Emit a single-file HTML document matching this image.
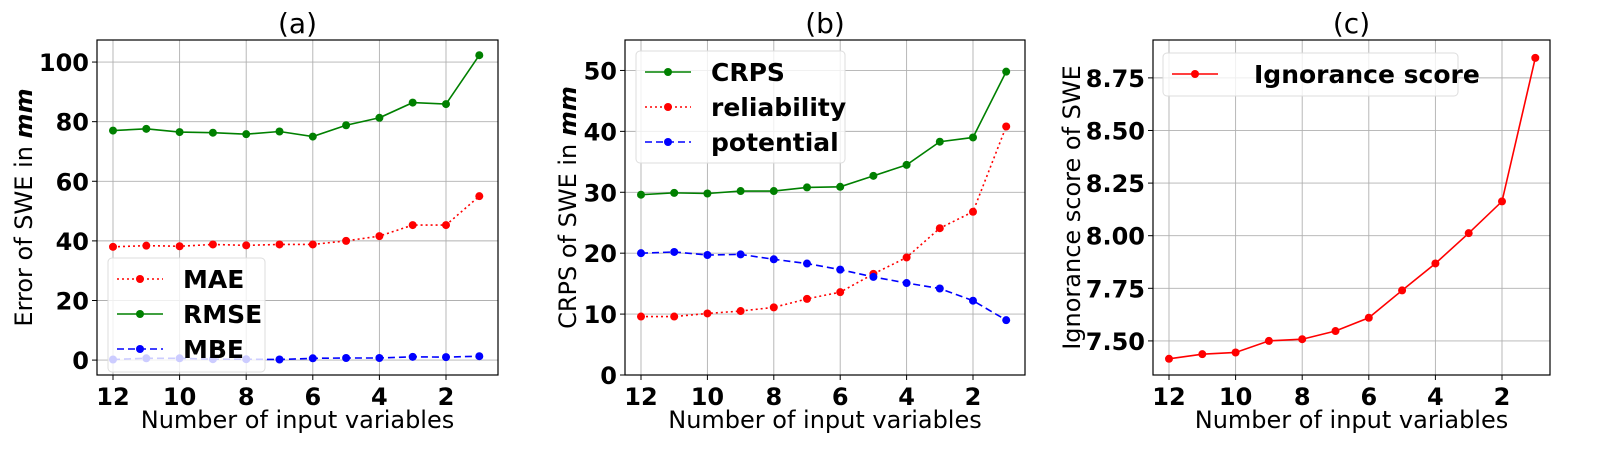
<!DOCTYPE html>
<html><head><meta charset="utf-8"><style>
body{margin:0;background:#fff;}
svg{display:block;font-family:"DejaVu Sans","Liberation Sans",sans-serif;}
.tick{font-size:24px;font-weight:bold;}
.lab{font-size:24px;}
.ttl{font-size:28px;}
.leg{font-size:25px;font-weight:bold;}
</style></head><body>
<svg id="chart" width="1613" height="459" xmlns="http://www.w3.org/2000/svg"></svg>
<script>
const xs = [12,11,10,9,8,7,6,5,4,3,2,1];
const xTicks = [12,10,8,6,4,2];
const maeVals = [38,38.4,38.2,38.8,38.5,38.8,38.8,40,41.6,45.3,45.3,55];
const rmseVals = [77,77.6,76.5,76.3,75.8,76.7,75,78.8,81.3,86.4,85.9,102.3];
const mbeVals = [0.2,0.6,0.6,0.3,0.3,0.2,0.6,0.7,0.7,1.1,1.0,1.3];
const crpsVals = [29.6,29.9,29.8,30.2,30.2,30.8,30.9,32.7,34.5,38.3,39,49.8];
const relVals = [9.6,9.6,10.1,10.5,11.1,12.5,13.6,16.6,19.3,24.1,26.8,40.8];
const potVals = [20,20.2,19.7,19.8,19,18.3,17.3,16.1,15.1,14.2,12.2,9];
const ignVals = [7.415,7.437,7.445,7.50,7.508,7.547,7.61,7.74,7.868,8.012,8.163,8.845];
const yTicksA = [0,20,40,60,80,100];
const yTicksB = [0,10,20,30,40,50];
const yTicksC = [7.50,7.75,8.00,8.25,8.50,8.75];

const svg = document.getElementById('chart');
const NS = 'http://www.w3.org/2000/svg';
function mk(tag, attrs, parent, text){
  const e = document.createElementNS(NS, tag);
  for (const k in attrs) e.setAttribute(k, attrs[k]);
  if (text !== undefined) e.textContent = text;
  (parent||svg).appendChild(e); return e;
}

function panel(cfg){
  const g = mk('g', {});
  
  
  const L=cfg.left, R=cfg.right, T=40, B=375;
  const xf = v => cfg.x12 + (12 - v) * (cfg.x2 - cfg.x12) / 10;
  const yf = v => B - (v - cfg.ymin) * (B - T) / (cfg.ymax - cfg.ymin);
  xTicks.forEach(t => {
    const l = mk('line', {x1:xf(t),x2:xf(t),y1:T,y2:B,stroke:'#b0b0b0','stroke-width':0.9}, g);
     
    mk('line', {x1:xf(t),x2:xf(t),y1:B,y2:B+5,stroke:'#000'}, g);
    const tx = mk('text', {x:xf(t),y:B+30,'text-anchor':'middle',class:'tick'}, g, String(t));
     
  });
  cfg.yTicks.forEach(t => {
    const y = yf(t);
    const l = mk('line', {x1:L,x2:R,y1:y,y2:y,stroke:'#b0b0b0','stroke-width':0.9}, g);
     
    mk('line', {x1:L-5,x2:L,y1:y,y2:y,stroke:'#000'}, g);
    const tx = mk('text', {x:L-8,y:y+9,'text-anchor':'end',class:'tick'}, g, cfg.fmt(t));
     
  });
  cfg.series.forEach(s => {
    const pts = xs.map((x,i)=>xf(x)+','+yf(s.vals[i])).join(' ');
    const pl = mk('polyline', {points:pts,fill:'none',stroke:s.color,'stroke-width':1.6,'stroke-dasharray':s.dash||'none'}, g);
     
    xs.forEach((x,i)=>{
      const c = mk('circle', {cx:xf(x),cy:yf(s.vals[i]),r:4,fill:s.color}, g);
       
    });
  });
  const fr = mk('rect', {x:L,y:T,width:R-L,height:B-T,fill:'none',stroke:'#000','stroke-width':1.2}, g);
   
  const lg = cfg.legend;
  const lgg = mk('g', {}, g);
   
  mk('rect', {x:lg.x,y:lg.y,width:lg.w,height:lg.h,rx:4,fill:'rgba(255,255,255,0.8)',stroke:'#ddd'}, lgg);
  cfg.series.forEach((s,i)=>{
    const yy = lg.y + 21 + i*35;
    mk('line', {x1:lg.x+9,x2:lg.x+55,y1:yy,y2:yy,stroke:s.color,'stroke-width':1.6,'stroke-dasharray':s.dash||'none'}, lgg);
    mk('circle', {cx:lg.x+32,cy:yy,r:4,fill:s.color}, lgg);
    const t = mk('text', {x:lg.x+lg.tx,y:yy+9,class:'leg'}, lgg, s.label);
     
  });
  const ti = mk('text', {x:(L+R)/2,y:33,'text-anchor':'middle',class:'ttl'}, g, cfg.title);
   
  const xl = mk('text', {x:(L+R)/2,y:428,'text-anchor':'middle',class:'lab'}, g, 'Number of input variables');
   
  const yl = mk('text', {x:0,y:0,'text-anchor':'middle',class:'lab',transform:`translate(${cfg.ylx},${(T+B)/2}) rotate(-90)`}, g);
   
  yl.innerHTML = cfg.ylab;
}

panel({name:'panel-a',left:97,right:498,x12:113,x2:446,ymin:-5,ymax:107.4,yTicks:yTicksA,fmt:v=>String(v),
  title:'(a)',ylx:32,ylab:'Error of SWE in <tspan font-weight="bold" font-style="italic">mm</tspan>',
  legend:{x:108,y:258,w:157,h:114,tx:75},
  series:[{key:'mae',label:'MAE',vals:maeVals,color:'#ff0000',dash:'2,3'},
          {key:'rmse',label:'RMSE',vals:rmseVals,color:'#008000'},
          {key:'mbe',label:'MBE',vals:mbeVals,color:'#0000ff',dash:'7,4'}]});
panel({name:'panel-b',left:625,right:1025,x12:641,x2:973,ymin:0,ymax:55,yTicks:yTicksB,fmt:v=>String(v),
  title:'(b)',ylx:576,ylab:'CRPS of SWE in <tspan font-weight="bold" font-style="italic">mm</tspan>',
  legend:{x:636,y:51,w:209,h:112,tx:75},
  series:[{key:'crps',label:'CRPS',vals:crpsVals,color:'#008000'},
          {key:'reliability',label:'reliability',vals:relVals,color:'#ff0000',dash:'2,3'},
          {key:'potential',label:'potential',vals:potVals,color:'#0000ff',dash:'7,4'}]});
panel({name:'panel-c',left:1153,right:1550,x12:1169,x2:1502,ymin:7.338,ymax:8.93,yTicks:yTicksC,fmt:v=>v.toFixed(2),
  title:'(c)',ylx:1080,ylab:'Ignorance score of SWE',
  legend:{x:1163,y:53,w:295,h:43,tx:91},
  series:[{key:'ignorance',label:'Ignorance score',vals:ignVals,color:'#ff0000'}]});
</script>
</body></html>
